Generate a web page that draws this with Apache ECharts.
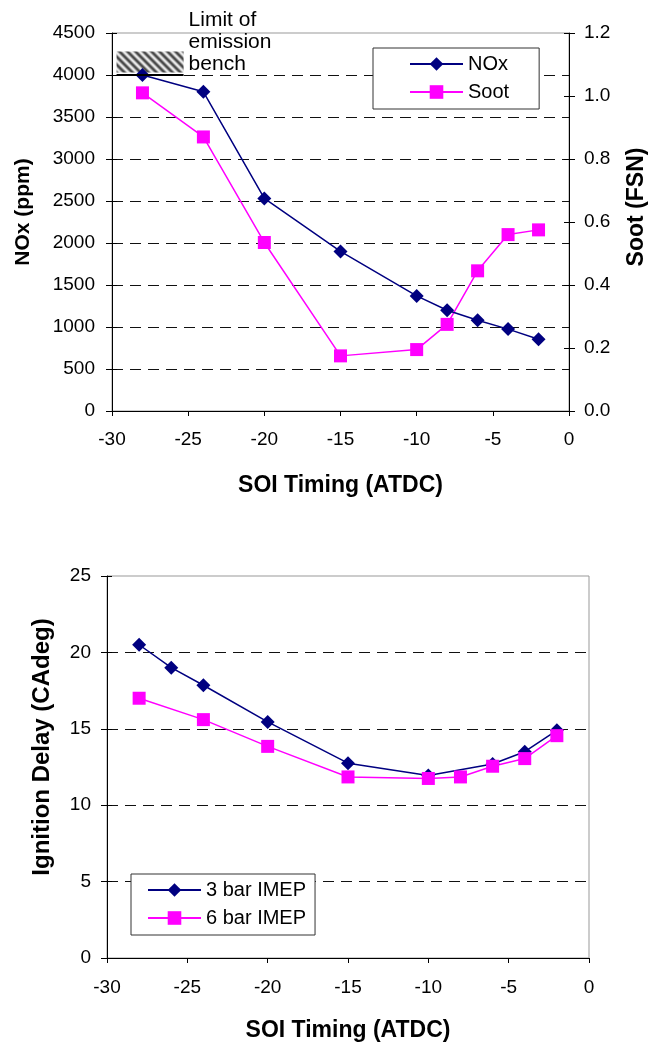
<!DOCTYPE html>
<html>
<head>
<meta charset="utf-8">
<script src="https://cdn.jsdelivr.net/npm/echarts@6/dist/echarts.min.js"></script>
<style>
  html, body { margin: 0; padding: 0; background: #ffffff; }
  #chart { width: 662px; height: 1057px; }
</style>
</head>
<body>
<div id="chart"></div>
<script>
// ---- Emission results vs. start of injection ----
const soiEmission = [-28, -24, -20, -15, -10, -8, -6, -4, -2];
const noxPpm      = [4000, 3800, 2530, 1900, 1370, 1200, 1080, 975, 855];
const sootFsn     = [1.01, 0.87, 0.535, 0.175, 0.195, 0.275, 0.445, 0.56, 0.575];

// ---- Ignition delay vs. start of injection ----
const soi3bar   = [-28, -26, -24, -20, -15, -10, -6, -4, -2];
const delay3bar = [20.5, 19.0, 17.85, 15.45, 12.75, 11.95, 12.7, 13.5, 14.9];
const soi6bar   = [-28, -24, -20, -15, -10, -8, -6, -4, -2];
const delay6bar = [17.0, 15.6, 13.85, 11.85, 11.75, 11.85, 12.55, 13.05, 14.55];

// Emission bench limit marker (data-space extents)
const benchLimitNox  = 4000;
const benchLimitSoi  = [-29.7, -25.3];
const benchHatchNox  = [4030, 4280];
const benchLabel     = ['Limit of', 'emission', 'bench'];

// Axis tick settings
const soiTicks   = { min: -30, max: 0, interval: 5 };
const noxTicks   = { min: 0, max: 4500, interval: 500 };
const sootTicks  = { min: 0, max: 1.2, interval: 0.2 };
const delayTicks = { min: 0, max: 25, interval: 5 };

const FONT = '"Liberation Sans", Arial, sans-serif';
const NAVY = '#000080';
const MAGENTA = '#ff00ff';

const zip = (xs, ys) => xs.map((x, i) => [x, ys[i]]);

// diagonal hatch used for the bench-limit box
function hatchPattern() {
  const n = 8;
  const c = document.createElement('canvas');
  c.width = n; c.height = n;
  const ctx = c.getContext('2d');
  const img = ctx.createImageData(n, n);
  for (let y = 0; y < n; y++) {
    for (let x = 0; x < n; x++) {
      const t = 0.5 + 0.5 * Math.cos(2 * Math.PI * (x - y) / n);
      const v = Math.round(70 + (235 - 70) * t);
      const k = (y * n + x) * 4;
      img.data[k] = v; img.data[k + 1] = v; img.data[k + 2] = v; img.data[k + 3] = 255;
    }
  }
  ctx.putImageData(img, 0, 0);
  return { image: c, repeat: 'repeat' };
}

const dashed = { color: '#111', width: 1, type: [11, 7] };

function xAxisCfg(gridIndex, labelMargin, nameGap) {
  return {
    type: 'value', gridIndex, ...soiTicks,
    name: 'SOI Timing (ATDC)', nameLocation: 'middle', nameGap,
    nameTextStyle: { fontFamily: FONT, fontSize: 23, fontWeight: 'bold', color: '#000' },
    axisLine: { show: true, onZero: false, lineStyle: { color: '#000', width: 1 } },
    axisTick: { show: true, inside: false, length: 5, lineStyle: { color: '#000' } },
    axisLabel: { fontFamily: FONT, fontSize: 19, color: '#000', margin: labelMargin },
    splitLine: { show: false }
  };
}

function yAxisCfg(gridIndex, ticks, position, name, nameSize, nameGap, labelMargin, fmt, grid, namePad) {
  return {
    type: 'value', gridIndex, position, ...ticks,
    name, nameLocation: 'middle', nameGap, nameRotate: 90,
    nameTextStyle: { fontFamily: FONT, fontSize: nameSize, fontWeight: 'bold', color: '#000', padding: namePad },
    axisLine: { show: true, onZero: false, lineStyle: { color: '#000', width: 1 } },
    axisTick: { show: true, inside: false, length: 6, lineStyle: { color: '#000' } },
    axisLabel: { fontFamily: FONT, fontSize: 19, color: '#000', margin: labelMargin, formatter: fmt },
    splitLine: grid ? { show: true, showMinLine: false, showMaxLine: false, lineStyle: dashed } : { show: false }
  };
}

// inward half of the crossing ticks
function innerTicks(gridIndex, ticks, position) {
  return {
    type: 'value', gridIndex, position, ...ticks,
    axisLine: { show: false, onZero: false },
    axisTick: { show: true, inside: true, length: 5, lineStyle: { color: '#000' } },
    axisLabel: { show: false },
    splitLine: { show: false }
  };
}

function lineSeries(name, data, symbol, symbolSize, color, xi, yi, extra) {
  return Object.assign({
    name, type: 'line', data, xAxisIndex: xi, yAxisIndex: yi,
    symbol, symbolSize, showAllSymbol: true,
    lineStyle: { color, width: 1.5 },
    itemStyle: { color, borderWidth: 0 },
    emphasis: { disabled: true }
  }, extra || {});
}

function legendCfg(names, left, top, padding) {
  return {
    data: names, orient: 'vertical', left, top, padding,
    itemGap: 8, itemWidth: 53, itemHeight: 17,
    backgroundColor: '#fff', borderColor: '#333', borderWidth: 1, borderRadius: 0,
    textStyle: { fontFamily: FONT, fontSize: 20, color: '#000', lineHeight: 20 },
    selectedMode: false
  };
}

const chart = echarts.init(document.getElementById('chart'), null, { renderer: 'canvas' });

chart.setOption({
  animation: false,
  backgroundColor: '#fff',
  grid: [
    { left: 112, top: 33, width: 457, height: 378, show: true, borderColor: '#999', borderWidth: 1, backgroundColor: 'transparent', outerBoundsMode: 'none' },
    { left: 107, top: 576, width: 482, height: 382, show: true, borderColor: '#999', borderWidth: 1, backgroundColor: 'transparent', outerBoundsMode: 'none' }
  ],
  legend: [
    legendCfg(['NOx', 'Soot'], 373, 48, [6, 30, 7, 36]),
    legendCfg(['3 bar IMEP', '6 bar IMEP'], 131, 874, [6, 9, 7, 16])
  ],
  xAxis: [
    xAxisCfg(0, 19, 63),
    xAxisCfg(1, 20, 61)
  ],
  yAxis: [
    yAxisCfg(0, noxTicks, 'left', 'NOx (ppm)', 21, 78, 17, v => String(v), true, [0, 0, 0, 20]),
    yAxisCfg(0, sootTicks, 'right', 'Soot (FSN)', 23, 56, 15, v => v.toFixed(1), false, [0, 0, 0, 30]),
    yAxisCfg(1, delayTicks, 'left', 'Ignition Delay (CAdeg)', 24, 53, 16, v => String(v), true, [0, 0, 0, 40]),
    innerTicks(0, noxTicks, 'left'),
    innerTicks(0, sootTicks, 'right'),
    innerTicks(1, delayTicks, 'left')
  ],
  series: [
    lineSeries('Soot', zip(soiEmission, sootFsn), 'rect', 13, MAGENTA, 0, 1),
    lineSeries('NOx', zip(soiEmission, noxPpm), 'diamond', 14, NAVY, 0, 0, {
      markArea: {
        silent: true,
        itemStyle: { color: hatchPattern(), borderWidth: 0 },
        label: {
          show: true, position: 'right', distance: 5, offset: [0, -20],
          formatter: benchLabel.join('\n'),
          fontFamily: FONT, fontSize: 21, lineHeight: 22, color: '#000', align: 'left'
        },
        data: [[
          { coord: [benchLimitSoi[0], benchHatchNox[0]] },
          { coord: [benchLimitSoi[1], benchHatchNox[1]] }
        ]]
      },
      markLine: {
        silent: true, symbol: 'none',
        lineStyle: { color: '#000', width: 2, type: 'solid' },
        label: { show: false },
        data: [[
          { coord: [benchLimitSoi[0], benchLimitNox] },
          { coord: [benchLimitSoi[1], benchLimitNox] }
        ]]
      }
    }),
    lineSeries('3 bar IMEP', zip(soi3bar, delay3bar), 'diamond', 14, NAVY, 1, 2),
    lineSeries('6 bar IMEP', zip(soi6bar, delay6bar), 'rect', 13, MAGENTA, 1, 2)
  ]
});
</script>
</body>
</html>
